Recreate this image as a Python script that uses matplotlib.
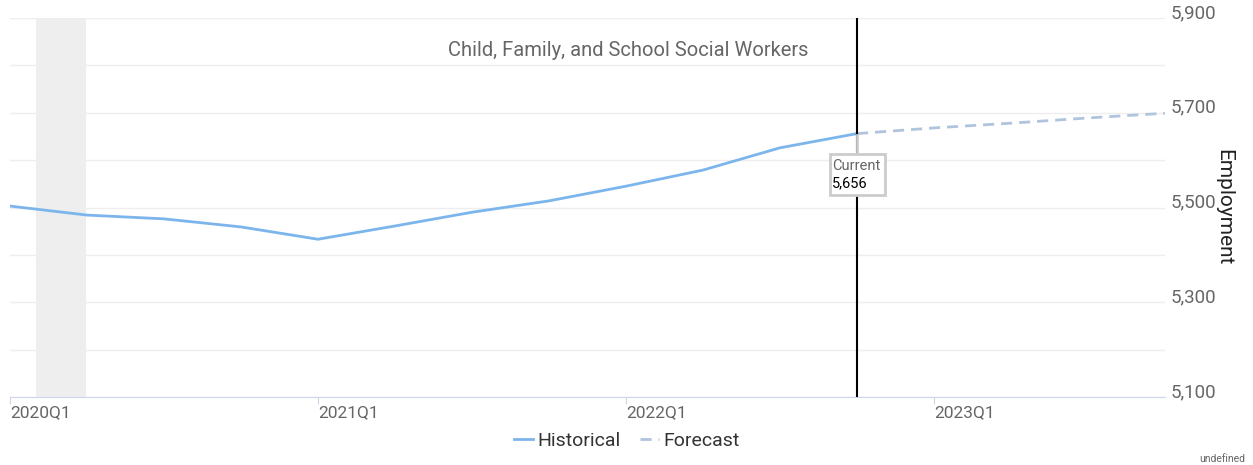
import numpy as np
import matplotlib.pyplot as plt
import matplotlib.patches as mpatches
import matplotlib.transforms as mtransforms

plt.rcParams['font.family'] = ['Roboto', 'DejaVu Sans']

# quarters since 2020Q1
hist_q = [0, 1, 2, 3, 4, 5, 6, 7, 8, 9, 10, 11]
hist_vals = [5503, 5484, 5476, 5459, 5433, 5461, 5490, 5514, 5545, 5579, 5626, 5656]
fc_q = [11, 12, 13, 14, 15]
fc_vals = [5656, 5668, 5678, 5689, 5699]
tick_q = [0, 4, 8, 12]
tick_labels = ["2020Q1", "2021Q1", "2022Q1", "2023Q1"]
y_ticks = [5100, 5300, 5500, 5700, 5900]
recession = (0.34, 0.99)
current_q = 11
current_val = 5656

fig = plt.figure(figsize=(12.53, 4.65), dpi=100)
ax = fig.add_axes([10/1253, 1 - 397/465, 1155/1253, 379/465])

ax.set_xlim(0, 15)
ax.set_ylim(5100, 5900)

for v in range(5100, 5901, 100):
	ax.axhline(v, color='#eeeeee', lw=1, zorder=0)

ax.axvspan(recession[0], recession[1], color='#eeeeee', lw=0, zorder=0.5)

ax.plot(hist_q, hist_vals, color='#7cb5ec', lw=2, zorder=3, label='Historical')
ax.plot(fc_q, fc_vals, color='#b0c4de', lw=2, ls=(0, (4, 2.5)), zorder=3, label='Forecast')

ax.axvline(current_q, color='black', lw=1.5, zorder=4)

# tooltip box, placed in pixels below the current point
px, py = ax.transData.transform((current_q, current_val))
tip = mtransforms.Affine2D().translate(px, py)
ax.add_patch(mpatches.Rectangle((-27, -61), 55, 41, transform=tip, fc='white', ec='#cccccc', lw=2, zorder=6, clip_on=False))
ax.plot([0, 0], [-1, -20], transform=tip, color='#cccccc', lw=2, zorder=5, clip_on=False)
ax.annotate("Current", (current_q, current_val), xytext=(-25, -32), textcoords='offset pixels',
	ha='left', va='center', fontsize=10.5, color='#666666', zorder=7)
ax.annotate("{:,}".format(current_val), (current_q, current_val), xytext=(-25, -50), textcoords='offset pixels',
	ha='left', va='center', fontsize=10.5, color='black', zorder=7)

for s in ['top', 'left', 'right']:
	ax.spines[s].set_visible(False)
ax.spines['bottom'].set_color('#ccd6eb')

ax.set_xticks(tick_q)
ax.set_xticklabels(tick_labels, ha='left', fontsize=12.5, color='#666666')
ax.tick_params(axis='x', length=5, color='#ccd6eb', pad=1)

ax.yaxis.tick_right()
ax.set_yticks(y_ticks)
ax.set_yticklabels(["{:,}".format(v) for v in y_ticks], fontsize=13.5, color='#666666', va='baseline')
ax.tick_params(axis='y', length=0, pad=4)
ax.yaxis.set_label_position('right')
ax.set_ylabel("Employment", rotation=270, fontsize=15, color='#222222', labelpad=12)

fig.text(628/1253, 1 - 50/465, "Child, Family, and School Social Workers", ha='center', va='center',
	fontsize=14.5, color='#666666')

fig.legend(loc='center', bbox_to_anchor=(627/1253, 1 - 441/465), ncol=2, frameon=False, fontsize=14,
	handlelength=0.95, handletextpad=0.25, columnspacing=1.0, labelcolor='#333333')

fig.text(1245/1253, 1 - 459/465, "undefined", ha='right', va='center', fontsize=7.5, color='#666666')

fig.savefig("out.png", dpi=100)
